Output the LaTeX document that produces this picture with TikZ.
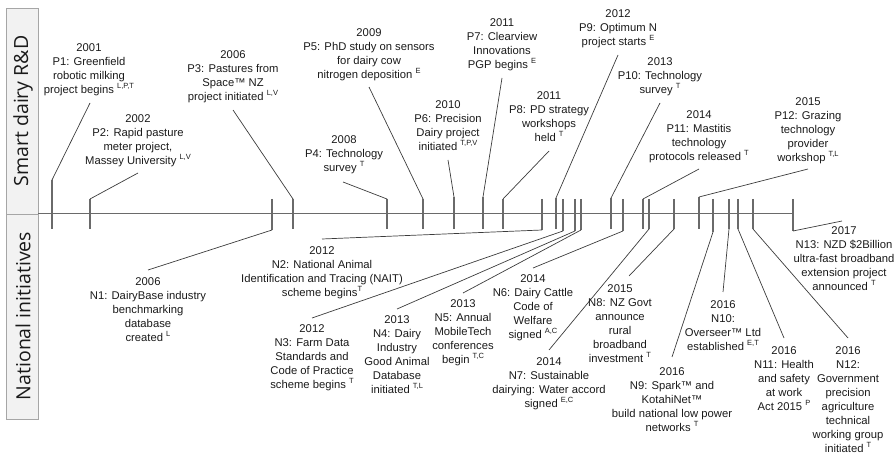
\documentclass[tikz,border=0pt]{standalone}
\usepackage{fontspec}
\setmainfont{Liberation Sans}
\newfontfamily\sidefont{Open Sans}
\definecolor{txt}{HTML}{1A1A1A}
\definecolor{tlc}{HTML}{6A6A6A}
\definecolor{ldc}{HTML}{3C3C3C}
\definecolor{boxfill}{HTML}{F2F2F2}
\definecolor{boxdraw}{HTML}{A6A6A6}
\newcommand\sups[1]{\raisebox{0.38em}{\fontsize{7.5}{7.5}\selectfont #1}}
\begin{document}
\begin{tikzpicture}[x=1pt,y=-1pt,
  sbox/.style={draw=boxdraw,fill=boxfill,line width=0.8pt},
  sidelab/.style={rotate=90,font=\sidefont\fontsize{19.5}{22}\selectfont,text=txt,inner sep=0pt},
  tline/.style={draw=tlc,line width=1pt},
  tk/.style={draw=tlc,line width=1.1pt},
  ld/.style={draw=ldc,line width=0.7pt},
  lab/.style={font=\fontsize{11.25}{14}\selectfont,align=center,inner sep=0pt,anchor=north,text=txt}]
\useasboundingbox (0,0) rectangle (896,454);
% side boxes
\draw[sbox] (6,8) rectangle (38,214);
\draw[sbox] (6,214) rectangle (38,419);
\node[sidelab] (sd) at (23,111) {Smart dairy R\&D};
\node[sidelab] (ni) at (23,316) {National initiatives};
% timeline
\coordinate (tl0) at (38,214);
\coordinate (tl1) at (793,214);
\draw[tline] (tl0) -- (tl1);
% ticks
\foreach \n/\x/\a/\b in {p1/52/180/229, p2/90/199/229, p3/293/199/229, p4/387/199/229,
  p5/423/199/229, p6/454/197/229, p7/483/197/229, p8/503/199/229, p9/556/198/229,
  p10/611/198/229, p11/643/199/229, p12/699/197/229,
  n1/272/199/230, n2/542/199/230, n3/563/199/231, n4/575/199/231, n5/581/199/230,
  n6/623/199/231, n7/649/199/229, n8/674/199/229, n9/713/199/232, n10/729/199/229,
  n11/738/199/229, n12/753/199/229, n13/793/199/231}{
  \coordinate (\n-top) at (\x,\a);
  \coordinate (\n-bot) at (\x,\b);
  \draw[tk] (\n-top) -- (\n-bot);
}
% leaders, upper
\foreach \n/\ex/\ey in {p1/90/103, p2/138/173, p3/233/110, p4/343/182, p5/369/87,
  p6/448/160, p7/502/78, p8/549/151, p9/618/55, p10/660/103, p11/699/169, p12/808/169}{
  \coordinate (\n-end) at (\ex,\ey);
  \draw[ld] (\n-top) -- (\n-end);
}
% leaders, lower
\foreach \n/\ex/\ey in {n1/148/270, n2/322/239, n3/312/318, n4/397/309, n5/463/293,
  n6/533/268, n7/549/350, n8/629/276, n9/672/357, n10/723/292, n11/784/338,
  n12/848/338, n13/842/221}{
  \coordinate (\n-end) at (\ex,\ey);
  \draw[ld] (\n-bot) -- (\n-end);
}
% labels, Smart dairy R&D
\node[lab] (lp1) at (89,43) {2001\\P1: Greenfield\\robotic milking\\project begins \sups{L,P,T}};
\node[lab] (lp2) at (138,114) {2002\\P2: Rapid pasture\\meter project,\\Massey University \sups{L,V}};
\node[lab] (lp3) at (233,50) {2006\\P3: Pastures from\\Space™ NZ\\project initiated \sups{L,V}};
\node[lab] (lp4) at (344,135) {2008\\P4: Technology\\survey \sups{T}};
\node[lab] (lp5) at (369,28) {2009\\P5: PhD study on sensors\\for dairy cow\\nitrogen deposition \sups{E}};
\node[lab] (lp6) at (448,100) {2010\\P6: Precision\\Dairy project\\initiated \sups{T,P,V}};
\node[lab] (lp7) at (502,18) {2011\\P7: Clearview\\Innovations\\PGP begins \sups{E}};
\node[lab] (lp8) at (549,91) {2011\\P8: PD strategy\\workshops\\held \sups{T}};
\node[lab] (lp9) at (618,9) {2012\\P9: Optimum N\\project starts \sups{E}};
\node[lab] (lp10) at (660,57) {2013\\P10: Technology\\survey \sups{T}};
\node[lab] (lp11) at (699,110) {2014\\P11: Mastitis\\technology\\protocols released \sups{T}};
\node[lab] (lp12) at (808,97) {2015\\P12: Grazing\\technology\\provider\\workshop \sups{T,L}};
% labels, National initiatives
\node[lab] (ln1) at (148,277) {2006\\N1: DairyBase industry\\benchmarking\\database\\created \sups{L}};
\node[lab] (ln2) at (322,246) {2012\\N2: National Animal\\Identification and Tracing (NAIT)\\scheme begins\sups{T}};
\node[lab] (ln3) at (312,324) {2012\\N3: Farm Data\\Standards and\\Code of Practice\\scheme begins \sups{T}};
\node[lab] (ln4) at (397,315) {2013\\N4: Dairy\\Industry\\Good Animal\\Database\\initiated \sups{T,L}};
\node[lab] (ln5) at (463,299) {2013\\N5: Annual\\MobileTech\\conferences\\begin \sups{T,C}};
\node[lab] (ln6) at (533,274) {2014\\N6: Dairy Cattle\\Code of\\Welfare\\signed \sups{A,C}};
\node[lab] (ln7) at (549,357) {2014\\N7: Sustainable\\dairying: Water accord\\signed \sups{E,C}};
\node[lab] (ln8) at (620,284) {2015\\N8: NZ Govt\\announce\\rural\\broadband\\investment \sups{T}};
\node[lab] (ln9) at (672,367) {2016\\N9: Spark™ and\\KotahiNet™\\build national low power\\networks \sups{T}};
\node[lab] (ln10) at (723,300) {2016\\N10:\\Overseer™ Ltd\\established \sups{E,T}};
\node[lab] (ln11) at (784,346) {2016\\N11: Health\\and safety\\at work\\Act 2015 \sups{P}};
\node[lab] (ln12) at (848,346) {2016\\N12:\\Government\\precision\\agriculture\\technical\\working group\\initiated \sups{T}};
\node[lab] (ln13) at (844,226) {2017\\N13: NZD \$2Billion\\ultra-fast broadband\\extension project\\announced \sups{T}};
\end{tikzpicture}
\end{document}
